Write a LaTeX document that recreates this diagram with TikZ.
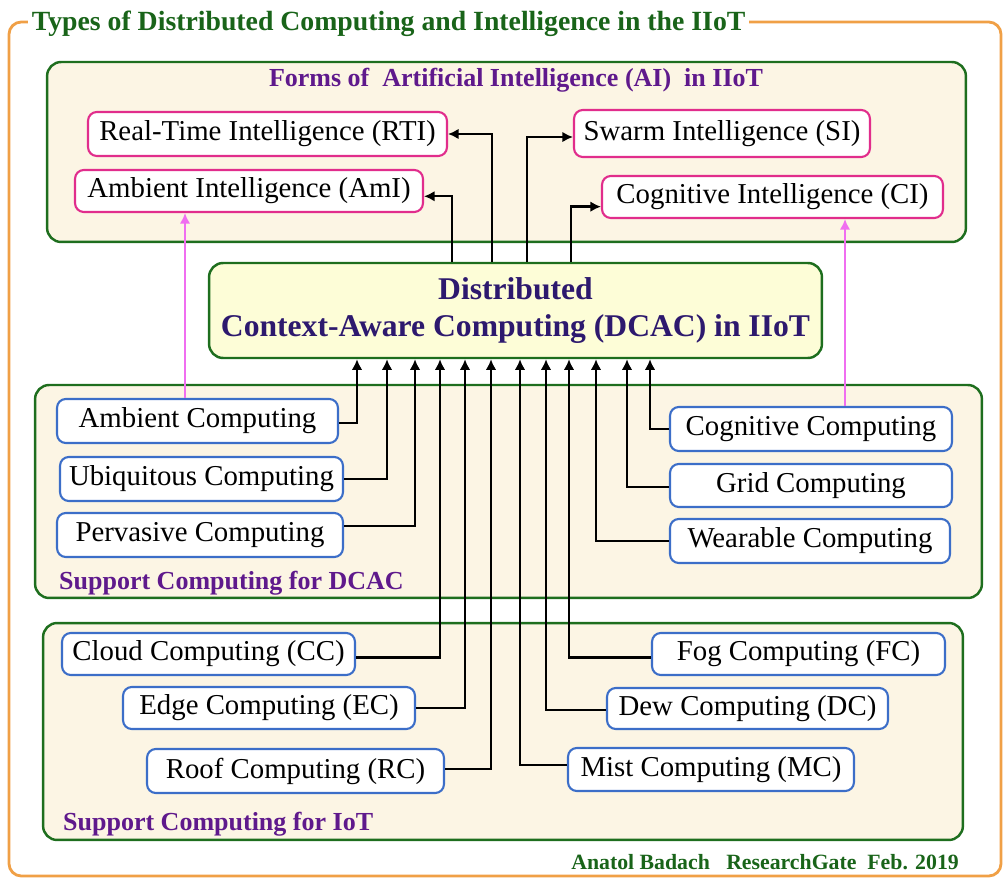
\documentclass[tikz,border=0pt]{standalone}
\usepackage{fontspec}
\setmainfont{Liberation Serif}
\usetikzlibrary{arrows.meta}
\definecolor{frameorange}{RGB}{240,160,70}
\definecolor{panelgreen}{RGB}{30,110,30}
\definecolor{panelfill}{RGB}{252,245,228}
\definecolor{dcacfill}{RGB}{253,253,215}
\definecolor{titlegreen}{RGB}{25,100,25}
\definecolor{headpurple}{RGB}{95,25,140}
\definecolor{dcacink}{RGB}{45,25,110}
\definecolor{aipink}{RGB}{225,45,140}
\definecolor{compblue}{RGB}{60,110,200}
\definecolor{linkpink}{RGB}{240,110,240}
\begin{document}
\begin{tikzpicture}
            [x=0.02cm,y=-0.02cm,
             panel/.style={draw=panelgreen,line width=1.4pt,fill=panelfill,rounded corners=8pt},
             aibox/.style={draw=aipink,line width=1.2pt,fill=white,rounded corners=5pt,inner sep=2pt,font=\fontsize{16.4}{19}\selectfont},
             cbox/.style={draw=compblue,line width=1.2pt,fill=white,rounded corners=5pt,inner sep=2pt,font=\fontsize{16.4}{19}\selectfont},
             head/.style={font=\fontsize{14.8}{17}\selectfont\bfseries,text=headpurple},
             conn/.style={line width=1.4pt,-{Latex[length=6pt,width=6pt]}},
             link/.style={draw=linkpink,line width=1.3pt,-{Latex[length=6pt,width=6pt]}}]
            \useasboundingbox (0,0) rectangle (1005,878);
            \draw[frameorange,line width=1.6pt,rounded corners=7pt] (9,22) rectangle (1001,876);
            \node[fill=white,inner sep=2pt,anchor=base west,text=titlegreen,font=\fontsize{15.8}{18}\selectfont\bfseries] (title) at (28,31) {Types of Distributed Computing and Intelligence in the IIoT};
            \node[panel,minimum width=18.38cm,minimum height=3.6cm] (aipanel) at (506.5,152) {};
            \node[panel,minimum width=18.94cm,minimum height=4.26cm] (dcacpanel) at (508.5,491.5) {};
            \node[panel,minimum width=18.4cm,minimum height=4.34cm] (iotpanel) at (503,731.5) {};
            \node[head] (aihead) at (516,80) {Forms of\ \ Artificial Intelligence (AI)\ \ in IIoT};
            \node[head,anchor=base west] (dcachead) at (53,590) {Support Computing for DCAC};
            \node[head,anchor=base west] (iothead) at (57,830) {Support Computing for IoT};
            \node[anchor=base east,text=titlegreen,font=\fontsize{12.4}{14}\selectfont\bfseries] (credit) at (965,869) {Anatol Badach\ \ \ ResearchGate\ \ Feb. 2019};
            \node[draw=panelgreen,line width=1.4pt,fill=dcacfill,rounded corners=8pt,minimum width=12.26cm,minimum height=1.9cm,align=center,text=dcacink,font=\fontsize{18}{21.5}\selectfont\bfseries] (dcac) at (515.5,310.5) {Distributed\\Context-Aware Computing (DCAC) in IIoT};
            \node[aibox,minimum width=7.18cm,minimum height=0.88cm] (rti) at (267.5,134) {Real-Time Intelligence (RTI)};
            \node[aibox,minimum width=6.96cm,minimum height=0.84cm] (ami) at (249,191) {Ambient Intelligence (AmI)};
            \node[aibox,minimum width=5.92cm,minimum height=0.94cm] (si) at (722,133.5) {Swarm Intelligence (SI)};
            \node[aibox,minimum width=6.82cm,minimum height=0.84cm] (ci) at (772.5,197) {Cognitive Intelligence (CI)};
            \node[cbox,minimum width=5.62cm,minimum height=0.88cm] (amb) at (197.5,421) {Ambient Computing};
            \node[cbox,minimum width=5.66cm,minimum height=0.88cm] (ubi) at (201.5,479) {Ubiquitous Computing};
            \node[cbox,minimum width=5.72cm,minimum height=0.88cm] (per) at (200,535) {Pervasive Computing};
            \node[cbox,minimum width=5.64cm,minimum height=0.88cm] (cog) at (811,429) {Cognitive Computing};
            \node[cbox,minimum width=5.64cm,minimum height=0.86cm] (grid) at (811,485.5) {Grid Computing};
            \node[cbox,minimum width=5.6cm,minimum height=0.88cm] (wear) at (810,541) {Wearable Computing};
            \node[cbox,minimum width=5.86cm,minimum height=0.84cm] (cloud) at (208.5,654) {Cloud Computing (CC)};
            \node[cbox,minimum width=5.84cm,minimum height=0.84cm] (edge) at (269,708) {Edge Computing (EC)};
            \node[cbox,minimum width=5.94cm,minimum height=0.88cm] (roof) at (295.5,771) {Roof Computing (RC)};
            \node[cbox,minimum width=5.86cm,minimum height=0.84cm] (fog) at (798.5,654) {Fog Computing (FC)};
            \node[cbox,minimum width=5.62cm,minimum height=0.82cm] (dew) at (747.5,708.5) {Dew Computing (DC)};
            \node[cbox,minimum width=5.72cm,minimum height=0.86cm] (mist) at (711,769.5) {Mist Computing (MC)};
            \draw[conn] (452,0 |- dcac.north) |- ([yshift=-3pt]ami.east);
            \draw[conn] (492,0 |- dcac.north) |- (rti.east);
            \draw[conn] (527,0 |- dcac.north) |- ([yshift=-2pt]si.west);
            \draw[conn] (571,0 |- dcac.north) |- ([yshift=-5.5pt]ci.west);
            \foreach \src/\x/\dy in {amb/357/-1,ubi/387/0,per/415/5,cloud/440/-2,edge/465/0,roof/491/1}
                \draw[conn] ([yshift=\dy pt]\src.east) -| (\x,0 |- dcac.south);
            \foreach \src/\x/\dy in {mist/520/2.5,dew/546/-1,fog/569/-2,wear/596/0,grid/627/-1,cog/650/0}
                \draw[conn] ([yshift=\dy pt]\src.west) -| (\x,0 |- dcac.south);
            \draw[link] (185,0 |- amb.north) -- (185,0 |- ami.south);
            \draw[link] (845,0 |- cog.north) -- (845,0 |- ci.south);
        \end{tikzpicture}
\end{document}
